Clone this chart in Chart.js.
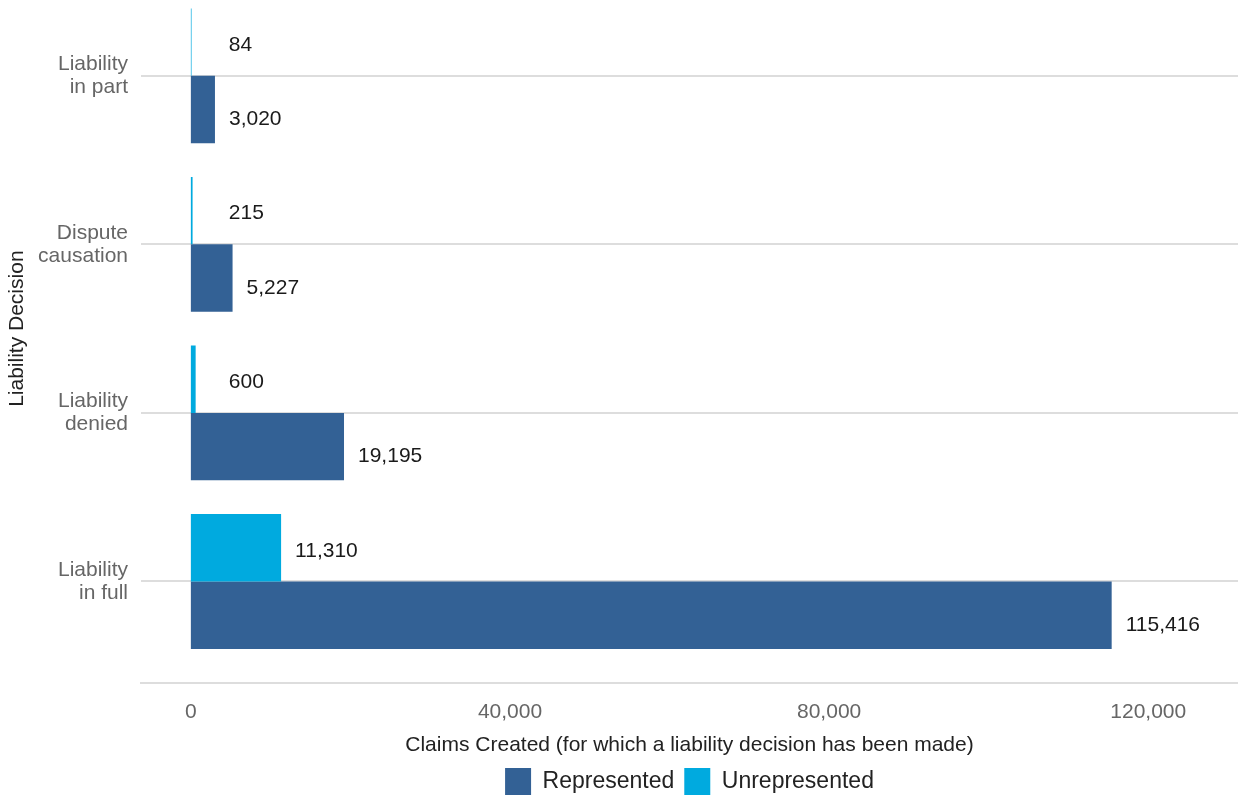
<!DOCTYPE html>
<html>
<head>
<meta charset="utf-8">
<title>Claims by liability decision</title>
<script src="https://cdn.jsdelivr.net/npm/chart.js@4.4.1/dist/chart.umd.min.js"></script>
<style>
  html, body { margin: 0; padding: 0; background: #fff; }
  #wrap { position: relative; width: 1238px; height: 796px; overflow: hidden; }
  /* plot range starts a little above the visible area, so the canvas is shifted up */
  #claims_chart { position: absolute; left: 0; top: -61px; }
</style>
</head>
<body>
<div id="wrap"><canvas id="claims_chart" width="1238" height="866"></canvas></div>
<script>
const categories = ['Liability in part', 'Dispute causation', 'Liability denied', 'Liability in full'];
const categoryLabels = [['Liability', 'in part'], ['Dispute', 'causation'], ['Liability', 'denied'], ['Liability', 'in full']];
const represented = [3020, 5227, 19195, 115416];
const unrepresented = [84, 215, 600, 11310];
const xTicks = [0, 40000, 80000, 120000];

const fmt = v => v.toLocaleString('en-US');
// each category sits on 1..4 of a linear y axis
const toPoints = arr => arr.map((v, i) => ({ x: v, y: i + 1 }));

Chart.defaults.font.family = '"Liberation Sans", Arial, sans-serif';
Chart.defaults.font.size = 21;

// value text to the right of every bar
const valueLabels = {
  id: 'valueLabels',
  afterDatasetsDraw(chart) {
    const ctx = chart.ctx;
    const base = chart.scales.x.getPixelForValue(0);
    ctx.save();
    ctx.font = '21px "Liberation Sans", Arial, sans-serif';
    ctx.fillStyle = '#1a1a1a';
    ctx.textBaseline = 'middle';
    ctx.textAlign = 'left';
    chart.data.datasets.forEach((ds, di) => {
      chart.getDatasetMeta(di).data.forEach((bar, i) => {
        const x = Math.max(bar.x + 14, base + 38);
        ctx.fillText(fmt(ds.data[i].x), x, bar.y + ds.labelShift);
      });
    });
    ctx.restore();
  }
};

const ctx = document.getElementById('claims_chart');

new Chart(ctx, {
  type: 'bar',
  data: {
    datasets: [
      {
        label: 'Unrepresented',
        data: toPoints(unrepresented),
        backgroundColor: '#00aadf',
        borderWidth: 0,
        labelShift: 3
      },
      {
        label: 'Represented',
        data: toPoints(represented),
        backgroundColor: '#336195',
        borderWidth: 0,
        labelShift: 10
      }
    ]
  },
  plugins: [valueLabels],
  options: {
    indexAxis: 'y',
    responsive: false,
    animation: false,
    categoryPercentage: 0.8,
    barPercentage: 1,
    layout: {
      padding: { top: 30, right: 0, bottom: 0, left: 0 }
    },
    plugins: {
      tooltip: { enabled: false },
      legend: {
        position: 'bottom',
        fullSize: false,
        reverse: true,
        labels: {
          boxWidth: 26,
          boxHeight: 27,
          padding: 10,
          color: '#222',
          font: { size: 23 }
        }
      }
    },
    scales: {
      x: {
        type: 'linear',
        min: -6250,
        max: 131250,
        afterBuildTicks: s => { s.ticks = xTicks.map(v => ({ value: v })); },
        ticks: {
          callback: v => fmt(v),
          color: '#666',
          padding: 17,
          maxRotation: 0,
          autoSkip: false
        },
        grid: { display: false, drawTicks: false },
        border: { display: true, color: '#dddddd', width: 2 },
        title: {
          display: true,
          text: 'Claims Created (for which a liability decision has been made)',
          color: '#222',
          padding: { top: -9, bottom: 0 }
        }
      },
      y: {
        type: 'linear',
        reverse: true,
        offset: false,
        min: 0.4,
        max: 4.6,
        afterBuildTicks: s => { s.ticks = categories.map((c, i) => ({ value: i + 1 })); },
        afterFit: s => { s.width = 141; },
        ticks: {
          callback: v => categoryLabels[v - 1],
          color: '#666',
          padding: 13,
          autoSkip: false,
          font: { lineHeight: 1.08 }
        },
        grid: { color: '#dddddd', lineWidth: 2, drawTicks: false, offset: false },
        border: { display: false },
        title: {
          display: true,
          text: 'Liability Decision',
          color: '#222',
          padding: { top: 5, bottom: 0 }
        }
      }
    }
  }
});
</script>
</body>
</html>
